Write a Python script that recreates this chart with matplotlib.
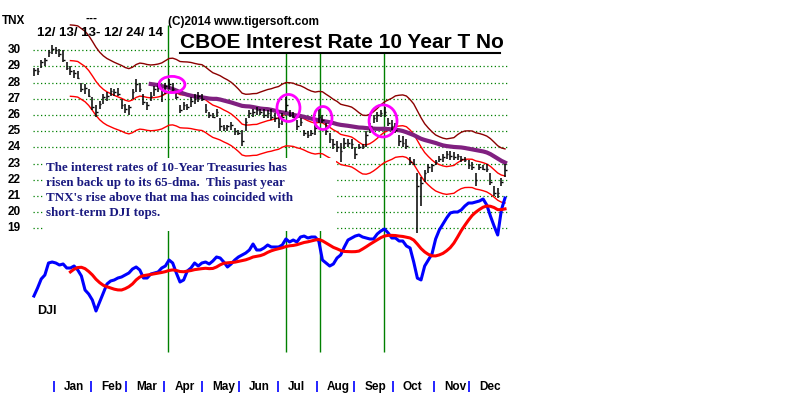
import numpy as np
import pandas as pd
import matplotlib.pyplot as plt
from matplotlib.patches import Ellipse, Rectangle

# TNX (10-yr yield x10), one bar per two trading days, 12/13/13 - 12/24/14
tnx_high = [28.9, 28.9, 29.4, 29.5, 30.0, 30.3, 30.2, 30.1, 30.0, 29.3,
            29.0, 28.8, 28.7, 28.0, 27.9, 27.6, 27.1, 26.6, 26.9, 27.3,
            27.4, 27.7, 27.6, 27.7, 27.0, 26.7, 26.6, 27.6, 28.2, 28.0,
            27.3, 26.8, 27.4, 27.8, 28.0, 27.7, 28.0, 28.2, 28.0, 27.5,
            26.6, 26.8, 26.7, 27.1, 27.3, 27.4, 27.3, 26.7, 26.2, 26.1,
            26.4, 25.8, 25.4, 25.4, 25.6, 25.2, 25.1, 25.1, 25.8, 26.3,
            26.4, 26.5, 26.4, 26.4, 26.3, 26.4, 26.1, 26.0, 26.1, 27.1,
            26.3, 26.2, 25.7, 25.8, 25.1, 25.0, 25.1, 25.4, 26.4, 26.0,
            25.5, 24.9, 24.5, 24.4, 24.3, 24.6, 24.5, 24.5, 24.0, 24.2,
            24.2, 25.0, 25.5, 26.0, 26.2, 26.3, 26.5, 25.8, 25.7, 25.5,
            24.8, 24.7, 24.5, 23.4, 23.3, 22.4, 22.2, 22.6, 23.0, 23.0,
            23.2, 23.5, 23.6, 23.8, 23.8, 23.7, 23.6, 23.5, 23.4, 23.2,
            23.1, 22.4, 23.0, 22.9, 23.0, 22.4, 21.6, 21.5, 22.1, 23.0]
tnx_low = [28.4, 28.5, 28.9, 29.0, 29.6, 29.8, 29.8, 29.6, 29.3, 28.8,
           28.5, 28.3, 28.2, 27.4, 27.3, 27.1, 26.3, 25.9, 26.4, 26.7,
           26.9, 27.2, 27.2, 27.2, 26.4, 26.1, 26.0, 27.0, 27.4, 27.4,
           26.6, 26.3, 26.9, 27.2, 27.4, 26.8, 27.3, 27.6, 27.5, 27.0,
           26.1, 26.3, 26.3, 26.5, 26.7, 26.8, 26.9, 26.1, 25.8, 25.8,
           25.9, 25.0, 25.0, 25.0, 25.1, 24.8, 24.8, 24.1, 25.0, 25.8,
           25.9, 26.0, 26.0, 25.8, 25.8, 25.7, 25.6, 25.2, 25.4, 26.2,
           25.9, 25.8, 25.1, 25.3, 24.7, 24.6, 24.7, 24.8, 25.5, 25.5,
           24.8, 24.3, 23.9, 23.7, 23.1, 23.9, 24.0, 23.9, 23.3, 23.9,
           23.9, 24.0, 24.9, 25.5, 25.6, 25.9, 25.9, 25.3, 25.1, 24.9,
           24.1, 24.0, 23.9, 22.9, 22.9, 18.7, 20.4, 21.9, 22.4, 22.5,
           22.9, 23.1, 23.1, 23.3, 23.2, 23.2, 23.2, 23.1, 23.1, 22.7,
           22.6, 21.6, 22.6, 22.6, 22.5, 21.7, 21.0, 20.9, 21.6, 22.2]
tnx_close = [28.8, 28.7, 29.3, 29.4, 29.9, 30.1, 30.0, 29.8, 29.4, 28.9,
             28.7, 28.6, 28.3, 27.6, 27.7, 27.2, 26.5, 26.2, 26.7, 27.1,
             27.2, 27.5, 27.4, 27.3, 26.6, 26.4, 26.5, 27.4, 27.9, 27.6,
             26.8, 26.6, 27.2, 27.6, 27.7, 27.3, 27.8, 27.9, 27.6, 27.1,
             26.3, 26.6, 26.5, 26.9, 27.0, 27.2, 27.0, 26.3, 26.0, 25.9,
             26.2, 25.3, 25.2, 25.3, 25.4, 25.0, 24.9, 24.4, 25.6, 26.1,
             26.2, 26.3, 26.2, 26.0, 26.1, 25.9, 25.8, 25.5, 25.9, 26.6,
             26.0, 25.9, 25.3, 25.6, 24.9, 24.8, 24.9, 25.2, 25.9, 25.7,
             25.0, 24.5, 24.2, 24.0, 23.8, 24.3, 24.3, 24.2, 23.6, 24.0,
             24.1, 24.8, 25.3, 25.8, 26.0, 26.1, 26.2, 25.5, 25.3, 25.1,
             24.4, 24.3, 24.1, 23.1, 23.0, 21.6, 21.8, 22.4, 22.8, 22.9,
             23.1, 23.3, 23.4, 23.6, 23.5, 23.4, 23.5, 23.3, 23.2, 22.9,
             22.8, 22.0, 22.8, 22.7, 22.7, 21.9, 21.2, 21.2, 21.9, 22.6]
# DJI closes on the same dates
dji = [15751, 15930, 16131, 16220, 16488, 16510, 16488, 16443, 16466, 16376,
       16376, 16421, 16332, 16198, 15885, 15796, 15662, 15417, 15618, 15818,
       16019, 16086, 16109, 16153, 16176, 16220, 16265, 16354, 16399, 16332,
       16153, 16153, 16242, 16265, 16287, 16376, 16421, 16555, 16488, 16265,
       16064, 16109, 16309, 16376, 16488, 16421, 16488, 16510, 16466, 16533,
       16622, 16600, 16510, 16399, 16466, 16555, 16622, 16667, 16711, 16778,
       16912, 16778, 16778, 16823, 16890, 16845, 16845, 16845, 16890, 17024,
       16957, 17001, 16957, 17068, 17090, 17046, 17068, 17068, 16979, 16555,
       16488, 16421, 16466, 16600, 16667, 16845, 17001, 17046, 17090, 17113,
       17068, 17046, 17024, 17024, 17135, 17202, 17247, 17158, 17046, 17046,
       16979, 16979, 16868, 16823, 16510, 16150, 16110, 16421, 16555, 16689,
       17024, 17224, 17358, 17492, 17604, 17626, 17626, 17671, 17760, 17827,
       17827, 17850, 17872, 17917, 17783, 17537, 17314, 17113, 17671, 17939]

grid_levels = [30, 29, 28, 27, 26, 25, 24, 23, 22, 21, 20, 19]
month_names = ['Jan', 'Feb', 'Mar', 'Apr', 'May', 'Jun', 'Jul', 'Aug', 'Sep', 'Oct', 'Nov', 'Dec']
month_start = [11.5, 32, 51, 72, 92.5, 113, 134, 155.5, 176, 197, 219.5, 239]
signal_days = [74, 138.6, 157.2, 192.2]
# circled tops: day, value, width (days), height (value)
circles = [(76.1, 27.89, 14.2, 1.0), (139.9, 26.44, 12.6, 1.67),
           (158.8, 25.82, 9.9, 1.42), (191.7, 25.64, 15.3, 1.98)]

note = ["The interest rates of 10-Year Treasuries has",
        "risen back up to its 65-dma.  This past year",
        "TNX's rise above that ma has coincided with",
        "short-term DJI tops."]

W, H = 800, 403
PXD = 1.826   # pixels per trading day


def dx(px):
    return (px - 33) / PXD


def vy(py):
    return 30 - (py - 50.3) / 16.2


def fx(px):
    return px / W


def fy(py):
    return 1 - py / H


days = np.arange(len(tnx_close)) * 2 + 0.5
close = pd.Series(tnx_close)
ma21 = close.rolling(11).mean()
ma65 = close.rolling(33).mean()
dji_ma = pd.Series(dji).rolling(11).mean()

fig = plt.figure(figsize=(8, 4.03), dpi=100)
ax = fig.add_axes([0, 0, 1, 1])
ax.set_xlim(dx(0), dx(W))
ax.set_ylim(vy(H), vy(0))
ax.axis('off')

# dotted grid
for lv in grid_levels:
    right = dx(167) if lv == 30 else dx(508)
    ax.hlines(lv, dx(33), right, colors='#008000', linestyles=(0, (1, 2)), lw=0.9)

ax.vlines(signal_days, vy(352), vy(25), colors='#008000', lw=1, zorder=2)

ax.plot(days, ma21 * 1.075, color='#8b0000', lw=1, zorder=3)
ax.plot(days, ma21, color='#ff0000', lw=1, zorder=3)
ax.plot(days, ma21 * 0.925, color='#ff0000', lw=1, zorder=3)
ax.plot(days, ma65, color='#802080', lw=3, zorder=3)

ax.vlines(days, tnx_low, tnx_high, colors='black', lw=1.1, zorder=4)
ax.hlines(tnx_close, days, days + 0.9, colors='black', lw=1, zorder=4)

for d, v, w, h in circles:
    ax.add_patch(Ellipse((d, v), w, h, fill=False, ec='#ff00ff', lw=2, zorder=5))

# white boxes behind title and note
ax.add_patch(Rectangle((fx(171), fy(53)), fx(505) - fx(171), fy(25) - fy(53),
                       transform=ax.transAxes, fc='white', ec='none', zorder=6))
ax.add_patch(Rectangle((fx(43), fy(231)), fx(336) - fx(43), fy(158) - fy(231),
                       transform=ax.transAxes, fc='white', ec='none', zorder=6))
ax.plot([dx(180), dx(500)], [vy(53), vy(53)], color='black', lw=1.5, zorder=7)

for lv in grid_levels:
    ax.text(dx(14), lv, str(lv), ha='center', va='center', fontsize=8.5,
            fontweight='bold', family='Liberation Sans', zorder=7)

ax.vlines(month_start, vy(392), vy(381), colors='#0000ff', lw=1.2)
for m, name in zip(month_start, month_names):
    ax.text(m + 10 / PXD, vy(387), name, va='center', fontsize=8.5,
            fontweight='bold', family='Liberation Sans')

ax2 = ax.twinx()
ax2.set_ylim(15372 - (H - 313) * 22.32, 15372 + 313 * 22.32)
ax2.axis('off')
ax2.plot(days, dji, color='#0000ff', lw=2.2)
ax2.plot(days, dji_ma, color='#ff0000', lw=2.2)

sans = dict(family='Liberation Sans', fontweight='bold', color='black')
fig.text(fx(2), fy(21), 'TNX', va='center', fontsize=8.5, **sans)
fig.text(fx(85), fy(19), '---', va='center', fontsize=8.5, **sans)
fig.text(fx(168), fy(21.5), '(C)2014 www.tigersoft.com', va='center', fontsize=8.5, **sans)
fig.text(fx(37), fy(33.5), '12/ 13/ 13- 12/ 24/ 14', va='center', fontsize=9.5, **sans)
fig.text(fx(180), fy(48), 'CBOE Interest Rate 10 Year T No', va='baseline', fontsize=15, **sans)
fig.text(fx(37), fy(311), 'DJI', va='center', fontsize=9, **sans)

for k, line in enumerate(note):
    fig.text(fx(46), fy(171.5 + k * 14.7), line, va='baseline', fontsize=9.4,
             family='Liberation Serif', fontweight='bold', color='#1a1a80')

fig.savefig('out.png', dpi=100)
